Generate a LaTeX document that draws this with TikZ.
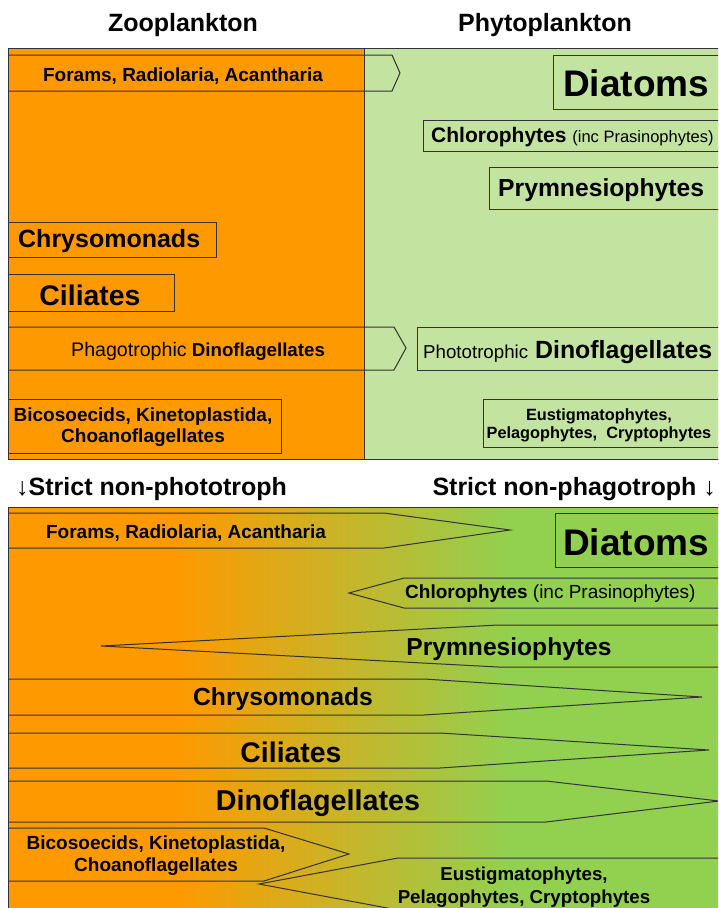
\documentclass[tikz,border=0pt]{standalone}
\usepackage{fontspec}
\setmainfont{Liberation Sans}
\definecolor{zooorange}{HTML}{FF9900}
\definecolor{palegreen}{HTML}{C3E3A1}
\definecolor{phytogreen}{HTML}{92D050}
\definecolor{edgegrey}{HTML}{333333}
\newcommand{\txtsize}[1]{\fontsize{#1}{#1}\selectfont}
\tikzset{
  lbl/.style={inner sep=0pt, font=\bfseries\txtsize{#1}},
  lbl/.default=19,
  outline/.style={draw=edgegrey, line width=1pt}
}
\begin{document}
\begin{tikzpicture}[x=1pt,y=-1pt]
\useasboundingbox (0,0) rectangle (718,908);
\clip (0,0) rectangle (718,908);
\node[lbl=25] (zoo) at (183,25) {Zooplankton};
\node[lbl=25] (phyto) at (545,25) {Phytoplankton};
\fill[zooorange] (8,48) rectangle (364,459);
\fill[palegreen] (364,48) rectangle (725,459);
\draw[outline] (8,48) rectangle (725,459);
\draw[outline] (364,48) -- (364,459);
\draw[outline] (8,55) -- (392,55) -- (400,73) -- (392,91) -- (8,91);
\node[lbl] (foramsA) at (183,76) {Forams, Radiolaria, Acantharia};
\draw[outline] (553,55) rectangle (725,109);
\node[lbl=37, anchor=west] (diatomsA) at (563,83) {Diatoms};
\draw[outline] (423,120) rectangle (725,151);
\node[lbl=21, anchor=west] (chloroA) at (431,137) {Chlorophytes {\mdseries\txtsize{16.5}(inc Prasinophytes)}};
\draw[outline] (489,167) rectangle (725,209);
\node[lbl=24.7, anchor=west] (prymA) at (498,190) {Prymnesiophytes};
\draw[outline] (8,222) rectangle (216,257);
\node[lbl=25, anchor=west] (chrysA) at (18,241) {Chrysomonads};
\draw[outline] (8,274) rectangle (174,311);
\node[lbl=28.4] (ciliA) at (90,295) {Ciliates};
\draw[outline] (8,327) -- (394,327) -- (406,348) -- (394,370) -- (8,370);
\node[lbl=18.7, anchor=west] (phagoA) at (71,351) {{\mdseries\txtsize{19.6}Phagotrophic} Dinoflagellates};
\draw[outline] (417,327) rectangle (725,370);
\node[lbl=24.9, anchor=west] (photoA) at (423,352) {{\mdseries\txtsize{18.7}Phototrophic} Dinoflagellates};
\draw[outline] (8,399) rectangle (281,453);
\node[lbl, align=center, font=\bfseries\fontsize{19}{21}\selectfont] (bicoA) at (143,427) {Bicosoecids, Kinetoplastida,\\Choanoflagellates};
\draw[outline] (483,399) rectangle (725,447);
\node[lbl, align=center, font=\bfseries\fontsize{16.3}{18}\selectfont] (eustA) at (599,425) {Eustigmatophytes,\\Pelagophytes,\ \ Cryptophytes};
\node[lbl=25, anchor=west] (nonphoto) at (16,489) {↓Strict non-phototroph};
\node[lbl=25, anchor=east] (nonphago) at (716,489) {Strict non-phagotroph ↓};
\fill[zooorange] (8,507) rectangle (175,915);
\shade[left color=zooorange, right color=phytogreen] (175,507) rectangle (510,915);
\fill[phytogreen] (510,507) rectangle (725,915);
\draw[outline] (8,507) rectangle (725,915);
\draw[outline] (8,513) -- (384,513) -- (510,530) -- (384,548) -- (8,548);
\node[lbl] (foramsB) at (186,533) {Forams, Radiolaria, Acantharia};
\draw[outline] (555,513) rectangle (725,567);
\node[lbl=37, anchor=west] (diatomsB) at (563,542) {Diatoms};
\draw[outline] (725,578) -- (404,578) -- (349,593) -- (404,608) -- (725,608);
\node[lbl, anchor=west] (chloroB) at (405,594) {Chlorophytes {\mdseries(inc Prasinophytes)}};
\draw[outline] (725,625) -- (498,625) -- (101,646) -- (498,667) -- (725,667);
\node[lbl=24.6] (prymB) at (509,649) {Prymnesiophytes};
\draw[outline] (8,679) -- (424,679) -- (702,697) -- (424,715) -- (8,715);
\node[lbl=24.7] (chrysB) at (283,699) {Chrysomonads};
\draw[outline] (8,733) -- (440,733) -- (709,750) -- (440,768) -- (8,768);
\node[lbl=28.4] (ciliB) at (291,752) {Ciliates};
\draw[outline] (8,781) -- (546,781) -- (719,801) -- (546,822) -- (8,822);
\node[lbl=28.7] (dinoB) at (318,803) {Dinoflagellates};
\draw[outline] (8,828) -- (264,828) -- (349,854) -- (264,881) -- (8,881);
\node[lbl, align=center, font=\bfseries\fontsize{19}{22}\selectfont] (bicoB) at (156,856) {Bicosoecids, Kinetoplastida,\\Choanoflagellates};
\draw[outline] (725,858) -- (398,858) -- (259,884) -- (398,910) -- (725,910);
\node[lbl, align=center, font=\bfseries\fontsize{18.7}{23}\selectfont] (eustB) at (524,887) {Eustigmatophytes,\\Pelagophytes, Cryptophytes};
\end{tikzpicture}
\end{document}
